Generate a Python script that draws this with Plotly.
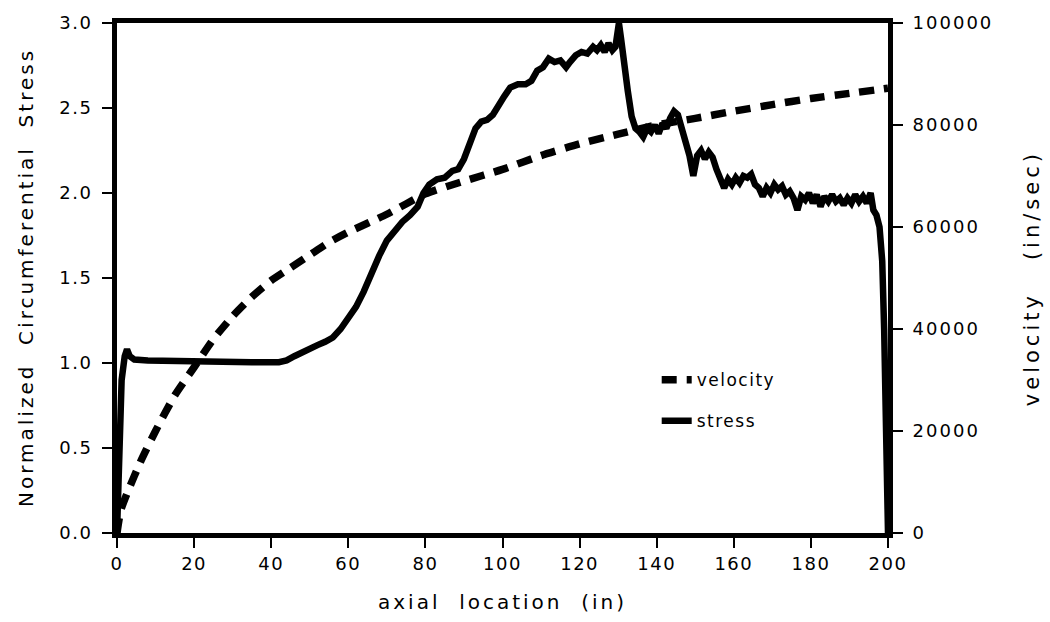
import plotly.graph_objects as go

# ---- data ----
x_vel = [0, 1, 3, 6, 10, 15, 20, 25, 30, 35, 40, 45, 50, 55, 60, 70, 80, 90, 100,
         110, 120, 130, 140, 150, 160, 170, 180, 190, 200]
velocity = [0, 4500, 8500, 13800, 20000, 27000, 32500, 38000, 42500, 46300, 49500,
            52000, 54500, 57000, 59000, 62500, 66500, 69000, 71300, 74000, 76300,
            78200, 80000, 81300, 82700, 84000, 85200, 86200, 87200]

x_str = [0, 0.5, 1.2, 2.0, 2.6, 3.3, 4.5, 8, 15, 25, 35, 42, 44, 46, 48, 50, 52, 54,
         56, 58, 60, 62, 64, 66, 68, 70, 72, 74, 76, 78, 79.5, 81, 83, 85, 87, 88.5,
         90, 91.5, 93, 94.5, 96, 97.5, 99, 100.5, 102, 104, 106, 107.5, 109, 110.5,
         112, 113.5, 115, 116.5, 117.5, 119, 120.5, 122, 123.5, 124.5, 125.5, 126.5,
         127.5, 128.5, 129.3, 130.2, 130.8, 131.5, 132.5, 133.5, 134.5, 135.5, 136.5,
         137.5, 138.5, 139.5, 140.5, 141.5, 142.5, 143.5, 144.5, 145.5, 146.5, 147.5,
         148.5, 149.5, 150.5, 151.5, 152.5, 153.5, 154.5, 155.5, 156.5, 157.5, 158.5,
         159.5, 160.5, 161.5, 162.5, 163.5, 164.5, 165.5, 166.5, 167.5, 168.5, 169.5,
         170.5, 171.5, 172.5, 173.5, 174.5, 175.5, 176.5, 177.5, 178.5, 179.5, 180.5,
         181.5, 182.5, 183.5, 184.5, 185.5, 186.5, 187.5, 188.5, 189.5, 190.5, 191.5,
         192.5, 193.5, 194.5, 195.5, 196.2, 197, 197.8, 198.5, 199, 199.5, 200]
stress = [0, 0.45, 0.9, 1.04, 1.08, 1.04, 1.02, 1.015, 1.01, 1.01, 1.005, 1.005, 1.015,
          1.04, 1.065, 1.09, 1.105, 1.125, 1.15, 1.2, 1.26, 1.33, 1.42, 1.53, 1.63, 1.72,
          1.78, 1.83, 1.87, 1.92, 2.0, 2.05, 2.08, 2.09, 2.13, 2.14, 2.2, 2.3, 2.38,
          2.42, 2.43, 2.46, 2.52, 2.57, 2.62, 2.64, 2.64, 2.66, 2.72, 2.74, 2.79, 2.77,
          2.78, 2.74, 2.77, 2.81, 2.83, 2.82, 2.86, 2.84, 2.87, 2.83, 2.88, 2.84, 2.86,
          3.0, 2.9, 2.75, 2.6, 2.45, 2.38, 2.36, 2.33, 2.38, 2.36, 2.4, 2.35, 2.41,
          2.38, 2.44, 2.48, 2.46, 2.38, 2.3, 2.22, 2.1, 2.22, 2.25, 2.2, 2.24, 2.21,
          2.14, 2.08, 2.03, 2.08, 2.05, 2.09, 2.06, 2.1, 2.09, 2.11, 2.05, 2.03, 1.98,
          2.03, 2.0, 2.05, 2.02, 2.04, 1.99, 2.01, 1.97, 1.9, 1.98, 1.96, 2.0, 1.94,
          1.99, 1.92, 1.98, 1.95, 1.99, 1.95, 1.97, 1.93, 1.97, 1.94, 1.99, 1.95, 1.98,
          1.94, 2.0, 1.9, 1.87, 1.8, 1.6, 1.2, 0.5, 0]

x_ticks = [0, 20, 40, 60, 80, 100, 120, 140, 160, 180, 200]
y_ticks = [0.0, 0.5, 1.0, 1.5, 2.0, 2.5, 3.0]
y2_ticks = [0, 20000, 40000, 60000, 80000, 100000]

FONT = "DejaVu Sans"
NB = "\u00a0"


def spaced(s, ls):
    return '<span style="letter-spacing:%spx">%s</span>' % (ls, s)


x_ticktext = [spaced(str(v), 1.5) for v in x_ticks]
y_ticktext = [spaced("%.1f" % v, 1.5) for v in y_ticks]
y2_ticktext = [spaced("%d" % v, 2) for v in y2_ticks]

fig = go.Figure()
fig.add_trace(go.Scatter(
    x=x_vel, y=velocity, yaxis="y2", mode="lines", name=spaced("velocity", 1.5),
    line=dict(color="black", width=7.5, dash="15px,10px", shape="spline", smoothing=0.6),
    legendgroup="v",
))
fig.add_trace(go.Scatter(
    x=x_str, y=stress, mode="lines", name=spaced("stress", 1.5),
    line=dict(color="black", width=6.5),
    legendgroup="s",
))

axis_common = dict(
    showgrid=False, zeroline=False, color="black",
    ticks="outside", ticklen=10, tickwidth=2, tickcolor="black",
    tickfont=dict(family=FONT, size=18, color="black"),
)

fig.update_layout(
    width=1050, height=622, autosize=False,
    margin=dict(l=117, r=162, t=18, b=89),
    paper_bgcolor="white", plot_bgcolor="white",
    showlegend=True,
    legend=dict(
        x=0.70, y=0.335, xanchor="left", yanchor="top",
        font=dict(family=FONT, size=17, color="black"),
        bgcolor="rgba(0,0,0,0)", traceorder="grouped", tracegroupgap=16,
    ),
    xaxis=dict(
        range=[0, 200], tickvals=x_ticks, ticktext=x_ticktext, showline=True,
        linewidth=5, linecolor="black", mirror=True, **axis_common,
    ),
    yaxis=dict(
        range=[0, 3], tickvals=y_ticks, ticktext=y_ticktext, showline=True,
        linewidth=5, linecolor="black", ticklabelstandoff=6, **axis_common,
    ),
    yaxis2=dict(
        range=[0, 100000], tickvals=y2_ticks, ticktext=y2_ticktext, overlaying="y",
        side="right", showline=True, linewidth=5, linecolor="black",
        ticklabelstandoff=6, **axis_common,
    ),
    annotations=[
        dict(text=spaced("axial" + NB * 2 + "location" + NB * 2 + "(in)", 3),
             xref="paper", yref="paper", x=0.5, y=-0.135, xanchor="center", yanchor="middle",
             showarrow=False, font=dict(family=FONT, size=20, color="black")),
        dict(text=spaced("Normalized" + NB * 2 + "Circumferential" + NB * 2 + "Stress", 3),
             xref="paper", yref="paper", x=-0.118, y=0.5, xanchor="center", yanchor="middle",
             textangle=-90, showarrow=False, font=dict(family=FONT, size=20, color="black")),
        dict(text=spaced("velocity" + NB * 3 + "(in/sec)", 4),
             xref="paper", yref="paper", x=1.187, y=0.5, xanchor="center", yanchor="middle",
             textangle=-90, showarrow=False, font=dict(family=FONT, size=21, color="black")),
    ],
)

fig.write_html("out.html")
